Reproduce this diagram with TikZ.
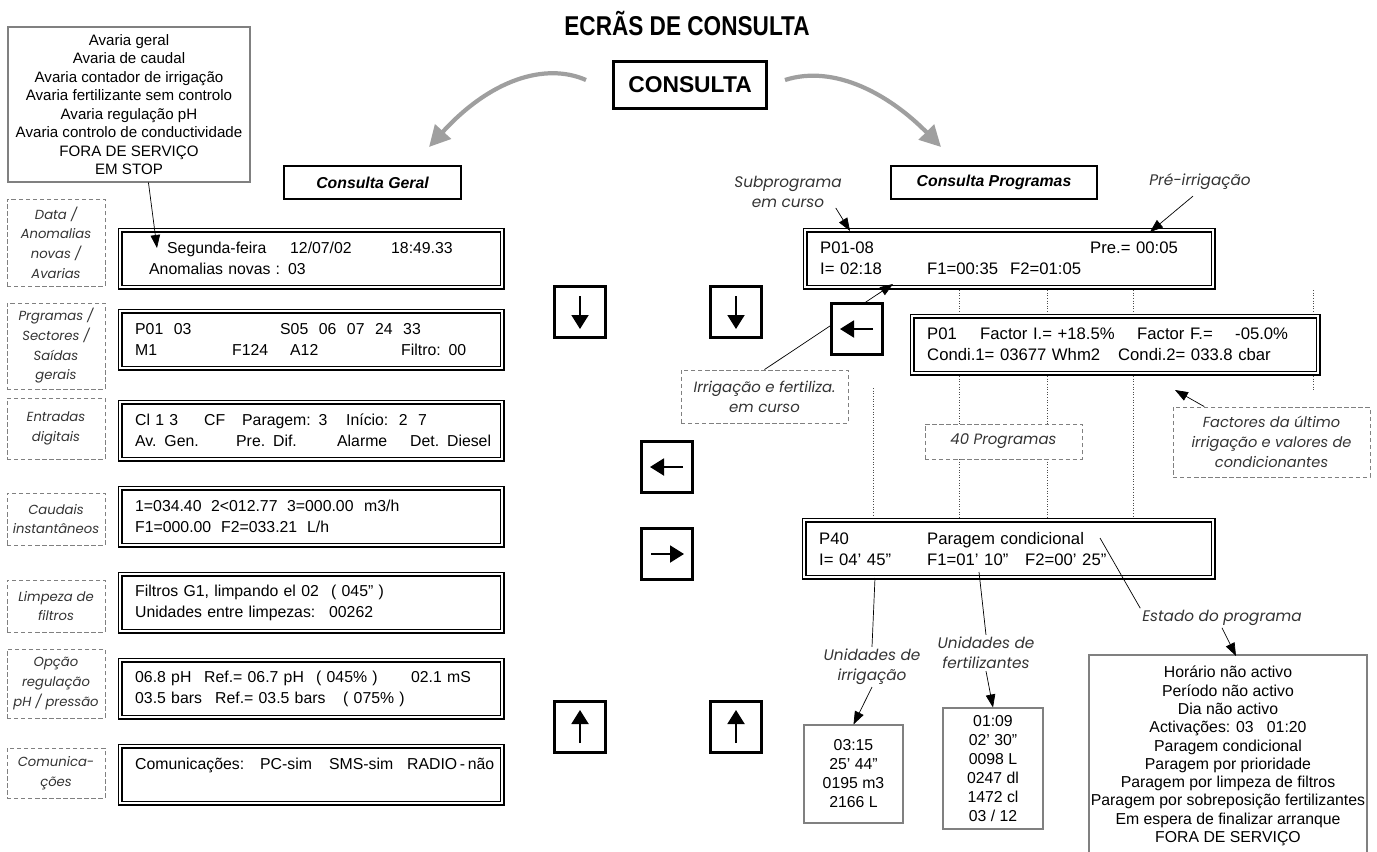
\documentclass[tikz,border=0pt]{standalone}
\usepackage{fontspec}
\setmainfont{Liberation Sans}
\newfontfamily\lblfont{Poppins}
\newfontfamily\titlefont{Liberation Sans}[FakeStretch=0.83]
\usetikzlibrary{positioning, arrows.meta, calc}
\newlength\pxu
\setlength\pxu{0.02cm}
\newcommand\lcdcol[2]{\makebox[0pt][l]{\hspace*{#1\pxu}#2}}

\begin{document}
\begin{tikzpicture}[x=0.02cm, y=-0.02cm, >={Triangle[length=0.26cm, width=0.19cm]},
  lcd/.style={draw, double, line width=0.8pt, double distance=1.2pt, anchor=north west,
    align=left, inner xsep=0.3cm, inner ysep=0pt, minimum height=1.14cm,
    font=\fontsize{9}{12}\selectfont},
  lcdR/.style={lcd, font=\fontsize{9.5}{12}\selectfont},
  sidetag/.style={draw=gray, dash pattern=on 2.5pt off 1.5pt, line width=0.5pt,
    minimum width=1.96cm, inner sep=0pt, align=center, text=black!80,
    font=\lblfont\itshape\fontsize{7.5}{11.2}\selectfont},
  hint/.style={align=center, text=black!80, inner sep=1pt,
    font=\lblfont\itshape\fontsize{8.7}{11.5}\selectfont},
  valbox/.style={draw=gray, line width=0.6pt, align=center, inner sep=0pt,
    font=\fontsize{9}{10.8}\selectfont},
  keybtn/.style={draw, fill=white, line width=1.7pt, minimum size=1.02cm, inner sep=0pt},
  keyarrow/.style={line width=1.1pt, -{Triangle[length=0.28cm, width=0.34cm]}},
  ptr/.style={line width=0.4pt, ->},
  dotline/.style={gray!60!black, line width=0.5pt, dash pattern=on 0.5pt off 1pt},
  fork/.style={gray!75, line width=2.4pt, -{Triangle[length=0.42cm, width=0.42cm]}}]

  \useasboundingbox (0,0) rectangle (1377,852);

  % header
  \node[font=\titlefont\bfseries\fontsize{15.5}{16}\selectfont] (title) at (687,24) {ECRÃS DE CONSULTA};
  \node[draw, line width=1.8pt, minimum width=3.06cm, minimum height=0.94cm,
    font=\bfseries\fontsize{13}{14}\selectfont] (consulta) at (690,85) {CONSULTA};
  \node[draw, line width=1.2pt, minimum width=3.54cm, minimum height=0.66cm,
    font=\bfseries\itshape\fontsize{9}{10}\selectfont] (geral) at (372.5,182.5) {Consulta Geral};
  \node[draw, line width=1.2pt, minimum width=4.12cm, minimum height=0.66cm,
    font=\bfseries\itshape\fontsize{9}{10}\selectfont] (programas) at (994,182.5) {Consulta Programas};

  \coordinate (gl) at (586,80);
  \coordinate (gltip) at (429,147);
  \coordinate (gr) at (785,80);
  \coordinate (grtip) at (941,147);
  \draw[fork] (gl) .. controls (545,62) and (490,80) .. (gltip);
  \draw[fork] (gr) .. controls (835,64) and (890,95) .. (grtip);

  \node[valbox, font=\fontsize{8.6}{10.5}\selectfont, minimum width=4.84cm, minimum height=3.1cm]
    (avarias) at (129,104.5) {Avaria geral\\Avaria de caudal\\Avaria contador de irrigação\\
    Avaria fertilizante sem controlo\\Avaria regulação pH\\Avaria controlo de conductividade\\
    FORA DE SERVIÇO\\EM STOP};

  % Consulta Geral
  \node[sidetag, minimum height=1.74cm] (tdata) at (56,242.5) {Data /\\Anomalias\\novas /\\Avarias};
  \node[sidetag, minimum height=1.72cm] (tprog) at (56,346) {Prgramas /\\Sectores /\\Saídas\\gerais};
  \node[sidetag, minimum height=1.22cm] (tentr) at (56,428.5) {Entradas\\digitais};
  \node[sidetag, minimum height=1.04cm] (tcaud) at (56,519) {Caudais\\instantâneos};
  \node[sidetag, minimum height=1.04cm] (tlimp) at (56,606) {Limpeza de\\filtros};
  \node[sidetag, minimum height=1.38cm] (topc) at (56,683.5) {Opção\\regulação\\pH / pressão};
  \node[sidetag, minimum height=1.0cm] (tcom) at (56,773) {Comunica-\\ções};

  \node[lcd, text width=7.04cm] (lcddata) at (119.5,229.5)
    {\lcdcol{32}{Segunda-feira}\lcdcol{155}{12/07/02}\lcdcol{256}{18:49.33}\\
     \lcdcol{14}{Anomalias novas : 03}};
  \node[lcd, text width=7.04cm] (lcdprog) at (119.5,310.5)
    {\lcdcol{0}{P01~~03}\lcdcol{145}{S05~~06~~07~~24~~33}\\
     \lcdcol{0}{M1}\lcdcol{97}{F124}\lcdcol{155}{A12}\lcdcol{266}{Filtro: 00}};
  \node[lcd, text width=7.04cm] (lcdentr) at (119.5,401.5)
    {\lcdcol{0}{Cl 1 3}\lcdcol{69}{CF}\lcdcol{107}{Paragem: 3}\lcdcol{211}{Início:~~2~~7}\\
     \lcdcol{0}{Av. Gen.}\lcdcol{101}{Pre. Dif.}\lcdcol{202}{Alarme}\lcdcol{275}{Det. Diesel}};
  \node[lcd, text width=7.04cm] (lcdcaud) at (119.5,487.5)
    {\lcdcol{0}{1=034.40}\lcdcol{76}{2<012.77}\lcdcol{152}{3=000.00}\lcdcol{229}{m3/h}\\
     \lcdcol{0}{F1=000.00}\lcdcol{86}{F2=033.21}\lcdcol{172}{L/h}};
  \node[lcd, text width=7.04cm] (lcdlimp) at (119.5,573.5)
    {\lcdcol{0}{Filtros G1, limpando el 02}\lcdcol{196}{( 045” )}\\
     \lcdcol{0}{Unidades entre limpezas:}\lcdcol{194}{00262}};
  \node[lcd, text width=7.04cm] (lcdopc) at (119.5,659.5)
    {\lcdcol{0}{06.8 pH}\lcdcol{69}{Ref.= 06.7 pH}\lcdcol{181}{( 045\% )}\lcdcol{276}{02.1 mS}\\
     \lcdcol{0}{03.5 bars}\lcdcol{80}{Ref.= 03.5 bars}\lcdcol{208}{( 075\% )}};
  \node[lcd, text width=7.04cm] (lcdcom) at (119.5,745.5)
    {\lcdcol{0}{Comunicações:}\lcdcol{125}{PC-sim}\lcdcol{194}{SMS-sim}\lcdcol{272}{RADIO\,-\,não}\\
     \mbox{}};

  \coordinate (datetip) at (157,248);
  \draw[ptr] ($(avarias.south west)!0.58!(avarias.south east)$) -- (datetip);

  % Consulta Programas
  \foreach \x in {959,1047,1133,1313}
    \draw[dotline] (\x,290) -- (\x,313);
  \foreach \x in {959,1047} {
    \draw[dotline] (\x,376) -- (\x,424);
    \draw[dotline] (\x,459) -- (\x,517);
  }
  \draw[dotline] (1133,376) -- (1133,517);
  \draw[dotline] (873,388) -- (873,517);
  \draw[dotline] (1313,376) -- (1313,390);

  \node[lcdR, text width=7.56cm] (lcdp01) at (804.5,229.5)
    {\lcdcol{0}{P01-08}\lcdcol{270}{Pre.= 00:05}\\
     \lcdcol{0}{I= 02:18}\lcdcol{107}{F1=00:35}\lcdcol{190}{F2=01:05}};
  \node[lcdR, text width=7.52cm] (lcdfact) at (911.5,315.5)
    {\lcdcol{0}{P01}\lcdcol{53}{Factor I.= +18.5\%}\lcdcol{210}{Factor F.=}\lcdcol{308}{-05.0\%}\\
     \lcdcol{0}{Condi.1= 03677 Whm2}\lcdcol{191}{Condi.2= 033.8 cbar}};
  \node[lcdR, text width=7.58cm] (lcdp40) at (803.5,519.5)
    {\lcdcol{0}{P40}\lcdcol{108}{Paragem condicional}\\
     \lcdcol{0}{I= 04’ 45”}\lcdcol{108}{F1=01’ 10”}\lcdcol{206}{F2=00’ 25”}};

  \node[hint] (sub) at (788,192) {Subprograma\\em curso};
  \node[hint] (pre) at (1200,182) {Pré-irrigação};
  \node[sidetag, minimum width=3.34cm, minimum height=1.06cm, font=\lblfont\itshape\fontsize{8.5}{11.5}\selectfont]
    (irrtag) at (764.5,396.5) {Irrigação e fertiliza.\\em curso};
  \node[sidetag, minimum width=3.14cm, minimum height=0.7cm, font=\lblfont\itshape\fontsize{8.5}{11.5}\selectfont]
    (prog40) at (1003.5,441.5) {40 Programas};
  \node[sidetag, minimum width=3.94cm, minimum height=1.4cm, font=\lblfont\itshape\fontsize{8.3}{11.5}\selectfont]
    (factores) at (1271.5,442) {Factores da último\\irrigação e valores de\\condicionantes};
  \node[hint] (unirr) at (872,667) {Unidades de\\irrigação};
  \node[hint] (unfert) at (986,653) {Unidades de\\fertilizantes};
  \node[hint] (estado) at (1222,618) {Estado do programa};

  \coordinate (subtip) at (850,231);
  \coordinate (pretip) at (1150,232);
  \coordinate (irrtip) at (893,284);
  \coordinate (facttip) at (1175,390);
  \coordinate (estadotip) at (1236,656);
  \draw[ptr] (sub.south east) ++(-8,-2) -- (subtip);
  \draw[ptr] (pre.south) ++(-7,4) -- (pretip);
  \draw[ptr] (irrtag.north) -- (irrtip);
  \draw[ptr] ($(factores.north west)!0.16!(factores.north east)$) -- (facttip);

  % cursor keys
  \node[keybtn] (dl) at (580,312) {};
  \node[keybtn] (dr) at (736,312) {};
  \node[keybtn] (lf) at (857,329) {};
  \node[keybtn] (lm) at (667,467) {};
  \node[keybtn] (rm) at (667,554) {};
  \node[keybtn] (ul) at (580,727) {};
  \node[keybtn] (ur) at (736,727) {};
  \foreach \n/\a in {dl/90, dr/90, lf/180, lm/180, rm/0, ul/270, ur/270}
    \draw[keyarrow] ($(\n.center)+(\a:-16)$) -- ($(\n.center)+(\a:17)$);

  % units and program state
  \node[valbox, minimum width=1.98cm, minimum height=1.96cm] (irrval) at (853.5,774)
    {03:15\\25’ 44”\\0195 m3\\2166 L};
  \node[valbox, minimum width=2.0cm, minimum height=2.42cm] (fertval) at (993,768.5)
    {01:09\\02’ 30”\\0098 L\\0247 dl\\1472 cl\\03 / 12};
  \node[align=center, inner sep=0pt, font=\fontsize{9}{10.4}\selectfont] (estadolist) at (1228,756)
    {Horário não activo\\Período não activo\\Dia não activo\\Activações: 03~~~01:20\\
     Paragem condicional\\Paragem por prioridade\\Paragem por limpeza de filtros\\
     Paragem por sobreposição fertilizantes\\Em espera de finalizar arranque\\FORA DE SERVIÇO};
  \draw[gray, line width=0.6pt] (1089,852) |- (1367,655) -- (1367,852);

  \coordinate (p40irr) at (875,578);
  \coordinate (p40fert) at (979,572);
  \coordinate (p40state) at (1100,538);
  \draw[line width=0.4pt] (p40irr) -- (unirr.north);
  \draw[line width=0.4pt] (p40fert) -- (unfert.north);
  \draw[line width=0.4pt] (p40state) -- (estado.north west);
  \draw[ptr] (unirr.south) -- (irrval.north);
  \draw[ptr] (unfert.south) -- (fertval.north);
  \draw[ptr] (estado.south) -- (estadotip);
\end{tikzpicture}
\end{document}
